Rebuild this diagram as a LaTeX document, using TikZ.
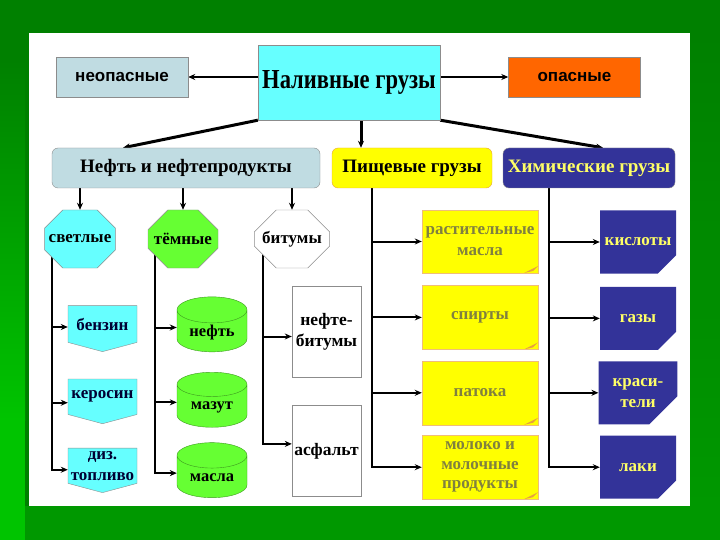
\documentclass[tikz,border=0pt]{standalone}
\usepackage{fontspec}
\setmainfont{Liberation Serif}
\newfontfamily\gruzsans{Liberation Sans}
\newfontfamily\gruznarrow[FakeStretch=0.82]{Liberation Serif}
\usepackage{tikz}
\usetikzlibrary{
    shapes.geometric,
    shapes.symbols,
    shapes.misc,
    arrows.meta,
    positioning,
    backgrounds
}
\definecolor{gruzbg}{HTML}{008000}
\definecolor{gruzbglight}{HTML}{00C400}
\definecolor{gruzbgmid}{HTML}{009800}
\definecolor{gruzcyan}{HTML}{66FFFF}
\definecolor{gruzgrayblue}{HTML}{C0DCE2}
\definecolor{gruzorange}{HTML}{FF6600}
\definecolor{gruzgreen}{HTML}{66FF33}
\definecolor{gruzyellow}{HTML}{FFFF00}
\definecolor{gruzfold}{HTML}{E8A040}
\definecolor{gruznavy}{HTML}{333399}
\definecolor{gruzlemon}{HTML}{FFFF66}
\definecolor{gruzolive}{HTML}{80803F}
\definecolor{gruzgray}{HTML}{8C8C8C}
\tikzset{
    % Top row box
    topbox/.style={
        rectangle,
        draw=gruzgray,
        fill=#1,
        font=\gruzsans\bfseries\fontsize{17pt}{19pt}\selectfont,
        minimum width=132pt,
        minimum height=40pt,
        align=center,
        inner sep=2pt
    },
    topbox/.default=gruzgrayblue,
    % Category header
    headbox/.style={
        rectangle,
        rounded corners=6pt,
        draw=gruzgray,
        fill=#1,
        font=\bfseries\fontsize{19pt}{21pt}\selectfont,
        minimum height=40pt,
        align=center,
        inner sep=2pt
    },
    headbox/.default=gruzgrayblue,
    % Octagon for oil groups
    octbox/.style={
        chamfered rectangle,
        chamfered rectangle xsep=14pt,
        chamfered rectangle ysep=14pt,
        draw=gruzgray,
        fill=#1,
        font=\bfseries\fontsize{17pt}{19pt}\selectfont,
        minimum width=70pt,
        minimum height=58pt,
        inner sep=0pt
    },
    % Light products
    signalbox/.style={
        signal,
        signal to=south,
        signal pointer angle=150,
        draw=gruzgray,
        fill=gruzcyan,
        text=black!80!blue,
        font=\bfseries\fontsize{17pt}{21pt}\selectfont,
        minimum width=69pt,
        minimum height=44pt,
        align=center,
        inner sep=1pt
    },
    % Dark products
    tankbox/.style={
        cylinder,
        shape border rotate=90,
        shape aspect=0.55,
        draw=gruzgreen!60!black,
        fill=gruzgreen,
        font=\bfseries\fontsize{16.5pt}{19pt}\selectfont,
        minimum width=70pt,
        minimum height=55pt,
        inner sep=1pt
    },
    % Bitumen products
    plainbox/.style={
        rectangle,
        draw=gruzgray,
        fill=white,
        font=\bfseries\fontsize{17.5pt}{21pt}\selectfont,
        minimum width=69pt,
        minimum height=91pt,
        align=center,
        inner sep=1pt
    },
    % Food cargo note
    notebox/.style={
        rectangle,
        draw=gruzfold!70,
        fill=gruzyellow,
        text=gruzolive,
        font=\bfseries\fontsize{17pt}{21pt}\selectfont,
        minimum width=116pt,
        minimum height=64pt,
        align=center,
        inner sep=1pt,
        path picture={
            \fill[gruzfold] ([xshift=-14pt]path picture bounding box.south east)
                -- ([yshift=7pt]path picture bounding box.south east)
                -- ([xshift=-5pt,yshift=2pt]path picture bounding box.south east) -- cycle;
        }
    },
    % Chemical cargo box
    chembox/.style={
        chamfered rectangle,
        chamfered rectangle corners=south east,
        chamfered rectangle xsep=14pt,
        chamfered rectangle ysep=14pt,
        fill=gruznavy,
        text=gruzlemon,
        font=\bfseries\fontsize{17pt}{21pt}\selectfont,
        minimum width=76pt,
        minimum height=63pt,
        align=center,
        inner sep=0pt
    },
    % Arrow style
    gruzarrow/.style={
        ->,
        >={Stealth[length=7pt,width=6pt]},
        line width=#1,
        color=black
    },
    gruzarrow/.default=2pt
}
\begin{document}
\begin{tikzpicture}[x=1pt, y=-1pt]
    \useasboundingbox (0,0) rectangle (720,540);

    % top row
    \node[topbox=gruzcyan, minimum width=182pt, minimum height=75pt,
          font=\gruznarrow\bfseries\fontsize{27.5pt}{30pt}\selectfont] (nalivnye) at (349,82.5) {Наливные грузы};
    \node[topbox] (neopasnye) at (122,77) {неопасные};
    \node[topbox=gruzorange] (opasnye) at (574.5,77) {опасные};

    % category headers
    \node[headbox, minimum width=268pt] (neft) at (186,168) {Нефть и нефтепродукты};
    \node[headbox=gruzyellow, draw=gruzfold, minimum width=160pt] (pishevye) at (412,168) {Пищевые грузы};
    \node[headbox=gruznavy, text=gruzlemon, minimum width=172pt] (himicheskie) at (589,168) {Химические грузы};

    % oil groups
    \node[octbox=gruzcyan] (svetlye) at (80,239) {светлые};
    \node[octbox=gruzgreen] (temnye) at (183,239) {тёмные};
    \node[octbox=white] (bitumy) at (292,239) {битумы};

    \node[signalbox] (benzin) at (102.5,324) {бензин};
    \node[signalbox, below=27pt of benzin.south, anchor=north] (kerosin) {керосин};
    \node[signalbox, below=24pt of kerosin.south, anchor=north] (diztoplivo) {диз.\\топливо};

    \node[tankbox] (neftbarrel) at (212,332.5) {нефть};
    \node[tankbox, below=20pt of neftbarrel] (mazut) {мазут};
    \node[tankbox, below=15pt of mazut] (masla) {масла};

    \node[plainbox] (neftebitumy) at (326.5,331.5) {нефте-\\битумы};
    \node[plainbox, below=28pt of neftebitumy] (asfalt) {асфальт};

    % food cargo
    \node[notebox, minimum height=63pt] (rastmasla) at (480,241.5) {растительные\\масла};
    \node[notebox, below=12pt of rastmasla] (spirty) {спирты};
    \node[notebox, below=11pt of spirty] (patoka) {патока};
    \node[notebox, below=10pt of patoka, font=\bfseries\fontsize{17pt}{19.5pt}\selectfont] (moloko) {молоко и\\молочные\\продукты};

    % chemical cargo
    \node[chembox] (kisloty) at (638,242) {кислоты};
    \node[chembox, below=13pt of kisloty] (gazy) {газы};
    \node[chembox, below=11pt of gazy] (krasiteli) {краси-\\тели};
    \node[chembox, below=11pt of krasiteli] (laki) {лаки};

    \begin{scope}[on background layer]
        % slide background
        \fill[gruzbg] (0,0) rectangle (720,540);
        \shade[top color=gruzbg, bottom color=gruzbglight] (0,60) rectangle (25,420);
        \fill[gruzbglight] (0,420) rectangle (25,540);
        \fill[gruzbgmid] (25,506) rectangle (720,540);
        \shade[top color=gruzbg, bottom color=gruzbgmid] (690,33) rectangle (720,506);
        \fill[white] (29,33) rectangle (690,506);

        \draw[gruzarrow] (neopasnye.east -| nalivnye.west) -- (neopasnye.east);
        \draw[gruzarrow] (opasnye.west -| nalivnye.east) -- (opasnye.west);
        \draw[gruzarrow=3pt] (nalivnye.south west) -- ([xshift=-63pt]neft.north);
        \draw[gruzarrow=3pt] ([xshift=12pt]nalivnye.south) -- ([xshift=12pt]nalivnye.south |- pishevye.north);
        \draw[gruzarrow=3pt] (nalivnye.south east) -- ([xshift=14pt]himicheskie.north);

        \draw[gruzarrow] (svetlye |- neft.south) -- (svetlye.north);
        \draw[gruzarrow] (temnye |- neft.south) -- (temnye.north);
        \draw[gruzarrow] (bitumy |- neft.south) -- (bitumy.north);

        \draw[gruzarrow] ([xshift=-28pt]svetlye.center) |- ([yshift=-3pt]benzin.west);
        \draw[gruzarrow] ([xshift=-28pt]svetlye.center) |- ([yshift=-6pt]kerosin.west);
        \draw[gruzarrow] ([xshift=-28pt]svetlye.center) |- ([yshift=-4pt]diztoplivo.west);

        \draw[gruzarrow] ([xshift=-28pt]temnye.center) |- ([yshift=5pt]neftbarrel.west);
        \draw[gruzarrow] ([xshift=-28pt]temnye.center) |- ([yshift=5pt]mazut.west);
        \draw[gruzarrow] ([xshift=-28pt]temnye.center) |- ([yshift=5pt]masla.west);

        \draw[gruzarrow] ([xshift=-29pt]bitumy.center) |- ([yshift=-5pt]neftebitumy.west);
        \draw[gruzarrow] ([xshift=-29pt]bitumy.center) |- ([yshift=7pt]asfalt.west);

        \draw[gruzarrow] ([xshift=-40pt]pishevye.center) |- (rastmasla.west);
        \draw[gruzarrow] ([xshift=-40pt]pishevye.center) |- (spirty.west);
        \draw[gruzarrow] ([xshift=-40pt]pishevye.center) |- (patoka.west);
        \draw[gruzarrow] ([xshift=-40pt]pishevye.center) |- (moloko.west);

        \draw[gruzarrow] ([xshift=-40pt]himicheskie.center) |- (kisloty.west);
        \draw[gruzarrow] ([xshift=-40pt]himicheskie.center) |- (gazy.west);
        \draw[gruzarrow] ([xshift=-40pt]himicheskie.center) |- (krasiteli.west);
        \draw[gruzarrow] ([xshift=-40pt]himicheskie.center) |- (laki.west);
    \end{scope}
\end{tikzpicture}
\end{document}
